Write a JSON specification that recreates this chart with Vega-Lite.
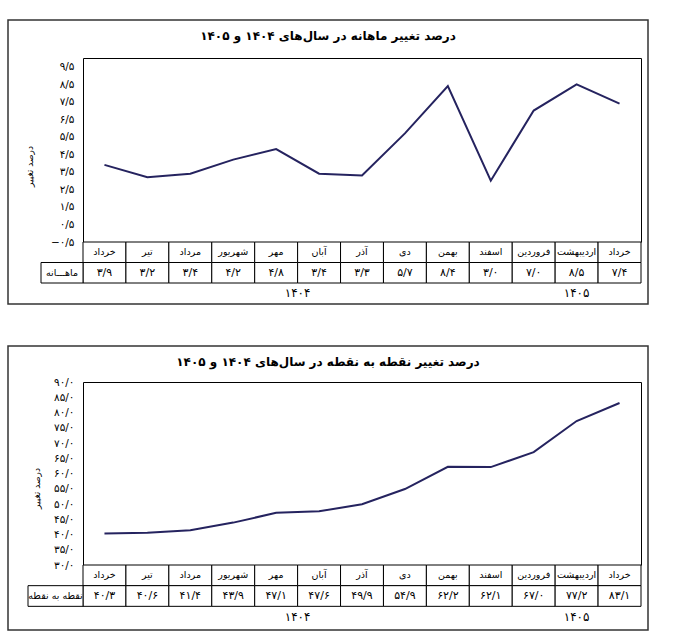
{
  "$schema": "https://vega.github.io/schema/vega-lite/v6.json",
  "padding": {"left": 7, "top": 19, "right": 0, "bottom": 0},
  "background": "white",
  "datasets": {
    "monthly": [
      {"idx": 1, "month": "خرداد", "year": "۱۴۰۴", "value": 3.9, "txt": "۳/۹"},
      {"idx": 2, "month": "تیر", "year": "۱۴۰۴", "value": 3.2, "txt": "۳/۲"},
      {"idx": 3, "month": "مرداد", "year": "۱۴۰۴", "value": 3.4, "txt": "۳/۴"},
      {"idx": 4, "month": "شهریور", "year": "۱۴۰۴", "value": 4.2, "txt": "۴/۲"},
      {"idx": 5, "month": "مهر", "year": "۱۴۰۴", "value": 4.8, "txt": "۴/۸"},
      {"idx": 6, "month": "آبان", "year": "۱۴۰۴", "value": 3.4, "txt": "۳/۴"},
      {"idx": 7, "month": "آذر", "year": "۱۴۰۴", "value": 3.3, "txt": "۳/۳"},
      {"idx": 8, "month": "دی", "year": "۱۴۰۴", "value": 5.7, "txt": "۵/۷"},
      {"idx": 9, "month": "بهمن", "year": "۱۴۰۴", "value": 8.4, "txt": "۸/۴"},
      {"idx": 10, "month": "اسفند", "year": "۱۴۰۴", "value": 3.0, "txt": "۳/۰"},
      {"idx": 11, "month": "فروردین", "year": "۱۴۰۵", "value": 7.0, "txt": "۷/۰"},
      {"idx": 12, "month": "اردیبهشت", "year": "۱۴۰۵", "value": 8.5, "txt": "۸/۵"},
      {"idx": 13, "month": "خرداد", "year": "۱۴۰۵", "value": 7.4, "txt": "۷/۴"}
    ],
    "p2p": [
      {"idx": 1, "month": "خرداد", "year": "۱۴۰۴", "value": 40.3, "txt": "۴۰/۳"},
      {"idx": 2, "month": "تیر", "year": "۱۴۰۴", "value": 40.6, "txt": "۴۰/۶"},
      {"idx": 3, "month": "مرداد", "year": "۱۴۰۴", "value": 41.4, "txt": "۴۱/۴"},
      {"idx": 4, "month": "شهریور", "year": "۱۴۰۴", "value": 43.9, "txt": "۴۳/۹"},
      {"idx": 5, "month": "مهر", "year": "۱۴۰۴", "value": 47.1, "txt": "۴۷/۱"},
      {"idx": 6, "month": "آبان", "year": "۱۴۰۴", "value": 47.6, "txt": "۴۷/۶"},
      {"idx": 7, "month": "آذر", "year": "۱۴۰۴", "value": 49.9, "txt": "۴۹/۹"},
      {"idx": 8, "month": "دی", "year": "۱۴۰۴", "value": 54.9, "txt": "۵۴/۹"},
      {"idx": 9, "month": "بهمن", "year": "۱۴۰۴", "value": 62.2, "txt": "۶۲/۲"},
      {"idx": 10, "month": "اسفند", "year": "۱۴۰۴", "value": 62.1, "txt": "۶۲/۱"},
      {"idx": 11, "month": "فروردین", "year": "۱۴۰۵", "value": 67.0, "txt": "۶۷/۰"},
      {"idx": 12, "month": "اردیبهشت", "year": "۱۴۰۵", "value": 77.2, "txt": "۷۷/۲"},
      {"idx": 13, "month": "خرداد", "year": "۱۴۰۵", "value": 83.1, "txt": "۸۳/۱"}
    ],
    "label1": [{"label": "ماهـــانه", "row": "txt"}],
    "label2": [{"label": "نقطه به نقطه", "row": "txt"}]
  },
  "vconcat": [
    {
      "width": 640,
      "height": 284,
      "title": {"text": "درصد تغییر ماهانه در سال‌های ۱۴۰۴ و ۱۴۰۵", "offset": -23, "fontSize": 12, "fontWeight": "bold", "anchor": "middle", "frame": "group"},
      "resolve": {"scale": {"x": "independent", "y": "independent"}, "axis": {"x": "independent", "y": "independent"}},
      "layer": [
        {
          "data": {"name": "monthly"},
          "transform": [{"fold": ["month", "txt"], "as": ["row", "cell"]}],
          "mark": {"type": "rect", "fill": "white", "stroke": "black", "strokeWidth": 1},
          "encoding": {
            "x": {"field": "idx", "type": "ordinal", "scale": {"type": "band", "range": [75, 633], "paddingInner": 0, "paddingOuter": 0}, "axis": null},
            "y": {"field": "row", "type": "nominal", "scale": {"type": "band", "domain": ["month", "txt", "year"], "range": [222, 283.5], "paddingInner": 0, "paddingOuter": 0}, "axis": null}
          }
        },
        {
          "data": {"name": "monthly"},
          "transform": [{"fold": ["month", "txt"], "as": ["row", "cell"]}],
          "mark": {"type": "text", "fontSize": 10, "color": "black"},
          "encoding": {
            "x": {"field": "idx", "type": "ordinal", "scale": {"type": "band", "range": [75, 633], "paddingInner": 0, "paddingOuter": 0}, "axis": null},
            "y": {"field": "row", "type": "nominal", "scale": {"type": "band", "domain": ["month", "txt", "year"], "range": [222, 283.5], "paddingInner": 0, "paddingOuter": 0}, "axis": null},
            "text": {"field": "cell"},
            "size": {"condition": {"test": "datum.row === 'txt'", "value": 11}, "value": 9.5}
          }
        },
        {
          "data": {"name": "label1"},
          "mark": {"type": "rect", "fill": "white", "stroke": "black", "strokeWidth": 1},
          "encoding": {
            "x": {"field": "label", "type": "nominal", "scale": {"type": "band", "range": [33, 75], "paddingInner": 0, "paddingOuter": 0}, "axis": null},
            "y": {"field": "row", "type": "nominal", "scale": {"type": "band", "domain": ["month", "txt", "year"], "range": [222, 283.5], "paddingInner": 0, "paddingOuter": 0}, "axis": null}
          }
        },
        {
          "data": {"name": "label1"},
          "mark": {"type": "text", "fontSize": 9.5, "color": "black"},
          "encoding": {
            "x": {"field": "label", "type": "nominal", "scale": {"type": "band", "range": [33, 75], "paddingInner": 0, "paddingOuter": 0}, "axis": null},
            "y": {"field": "row", "type": "nominal", "scale": {"type": "band", "domain": ["month", "txt", "year"], "range": [222, 283.5], "paddingInner": 0, "paddingOuter": 0}, "axis": null},
            "text": {"field": "label"}
          }
        },
        {
          "data": {"name": "monthly"},
          "transform": [{"aggregate": [{"op": "mean", "field": "idx", "as": "mid"}], "groupby": ["year"]}],
          "mark": {"type": "text", "fontSize": 12, "color": "black"},
          "encoding": {
            "x": {"field": "mid", "type": "quantitative", "scale": {"domain": [0.5, 13.5], "range": [75, 633], "zero": false, "nice": false}, "axis": null},
            "y": {"datum": "year", "type": "nominal", "scale": {"type": "band", "domain": ["month", "txt", "year"], "range": [222, 283.5], "paddingInner": 0, "paddingOuter": 0}, "axis": null},
            "text": {"field": "year"}
          }
        },
        {
          "data": {"name": "monthly"},
          "mark": {"type": "line", "color": "#25235f", "strokeWidth": 2},
          "encoding": {
            "x": {"field": "idx", "type": "ordinal", "scale": {"type": "point", "range": [75, 633], "padding": 0.5}, "axis": {"orient": "top", "offset": -38, "labels": false, "ticks": false, "title": null, "domainColor": "black", "domainWidth": 1}},
            "y": {"field": "value", "type": "quantitative", "scale": {"domain": [-0.5, 10], "range": [222, 38], "zero": false, "nice": false}, "axis": {"orient": "left", "offset": -75, "values": [-0.5, 0.5, 1.5, 2.5, 3.5, 4.5, 5.5, 6.5, 7.5, 8.5, 9.5], "labelExpr": "replace(replace(replace(replace(replace(replace(replace(replace(replace(replace(replace(format(datum.value,'.1f'),regexp('0','g'),'۰'),regexp('1','g'),'۱'),regexp('2','g'),'۲'),regexp('3','g'),'۳'),regexp('4','g'),'۴'),regexp('5','g'),'۵'),regexp('6','g'),'۶'),regexp('7','g'),'۷'),regexp('8','g'),'۸'),regexp('9','g'),'۹'),'.','/')", "grid": false, "ticks": false, "labelPadding": 9, "labelFontSize": 10.5, "labelColor": "black", "domainColor": "black", "title": "درصد تغییر", "titleFontSize": 9, "titleFontWeight": "normal", "titlePadding": 16, "titleColor": "black", "titleY": 146}}
          }
        },
        {
          "data": {"name": "monthly"},
          "mark": {"type": "line", "opacity": 0},
          "encoding": {
            "x": {"field": "idx", "type": "ordinal", "scale": {"type": "point", "range": [75, 633], "padding": 0.5}, "axis": null},
            "y": {"field": "value", "type": "quantitative", "scale": {"domain": [-0.5, 10], "range": [222, 38], "zero": false, "nice": false}, "axis": {"orient": "right", "offset": -7, "labels": false, "ticks": false, "grid": false, "title": null, "domainColor": "black"}}
          }
        }
      ]
    },
    {
      "width": 640,
      "height": 284,
      "title": {"text": "درصد تغییر نقطه به نقطه در سال‌های ۱۴۰۴ و ۱۴۰۵", "offset": -23, "fontSize": 12, "fontWeight": "bold", "anchor": "middle", "frame": "group"},
      "resolve": {"scale": {"x": "independent", "y": "independent"}, "axis": {"x": "independent", "y": "independent"}},
      "layer": [
        {
          "data": {"name": "p2p"},
          "transform": [{"fold": ["month", "txt"], "as": ["row", "cell"]}],
          "mark": {"type": "rect", "fill": "white", "stroke": "black", "strokeWidth": 1},
          "encoding": {
            "x": {"field": "idx", "type": "ordinal", "scale": {"type": "band", "range": [75, 633], "paddingInner": 0, "paddingOuter": 0}, "axis": null},
            "y": {"field": "row", "type": "nominal", "scale": {"type": "band", "domain": ["month", "txt", "year"], "range": [219, 281], "paddingInner": 0, "paddingOuter": 0}, "axis": null}
          }
        },
        {
          "data": {"name": "p2p"},
          "transform": [{"fold": ["month", "txt"], "as": ["row", "cell"]}],
          "mark": {"type": "text", "fontSize": 10, "color": "black"},
          "encoding": {
            "x": {"field": "idx", "type": "ordinal", "scale": {"type": "band", "range": [75, 633], "paddingInner": 0, "paddingOuter": 0}, "axis": null},
            "y": {"field": "row", "type": "nominal", "scale": {"type": "band", "domain": ["month", "txt", "year"], "range": [219, 281], "paddingInner": 0, "paddingOuter": 0}, "axis": null},
            "text": {"field": "cell"},
            "size": {"condition": {"test": "datum.row === 'txt'", "value": 11}, "value": 9.5}
          }
        },
        {
          "data": {"name": "label2"},
          "mark": {"type": "rect", "fill": "white", "stroke": "black", "strokeWidth": 1},
          "encoding": {
            "x": {"field": "label", "type": "nominal", "scale": {"type": "band", "range": [20, 75], "paddingInner": 0, "paddingOuter": 0}, "axis": null},
            "y": {"field": "row", "type": "nominal", "scale": {"type": "band", "domain": ["month", "txt", "year"], "range": [219, 281], "paddingInner": 0, "paddingOuter": 0}, "axis": null}
          }
        },
        {
          "data": {"name": "label2"},
          "mark": {"type": "text", "fontSize": 9.5, "color": "black"},
          "encoding": {
            "x": {"field": "label", "type": "nominal", "scale": {"type": "band", "range": [20, 75], "paddingInner": 0, "paddingOuter": 0}, "axis": null},
            "y": {"field": "row", "type": "nominal", "scale": {"type": "band", "domain": ["month", "txt", "year"], "range": [219, 281], "paddingInner": 0, "paddingOuter": 0}, "axis": null},
            "text": {"field": "label"}
          }
        },
        {
          "data": {"name": "p2p"},
          "transform": [{"aggregate": [{"op": "mean", "field": "idx", "as": "mid"}], "groupby": ["year"]}],
          "mark": {"type": "text", "fontSize": 12, "color": "black"},
          "encoding": {
            "x": {"field": "mid", "type": "quantitative", "scale": {"domain": [0.5, 13.5], "range": [75, 633], "zero": false, "nice": false}, "axis": null},
            "y": {"datum": "year", "type": "nominal", "scale": {"type": "band", "domain": ["month", "txt", "year"], "range": [219, 281], "paddingInner": 0, "paddingOuter": 0}, "axis": null},
            "text": {"field": "year"}
          }
        },
        {
          "data": {"name": "p2p"},
          "mark": {"type": "line", "color": "#25235f", "strokeWidth": 2},
          "encoding": {
            "x": {"field": "idx", "type": "ordinal", "scale": {"type": "point", "range": [75, 633], "padding": 0.5}, "axis": {"orient": "top", "offset": -36, "labels": false, "ticks": false, "title": null, "domainColor": "black", "domainWidth": 1}},
            "y": {"field": "value", "type": "quantitative", "scale": {"domain": [30, 90], "range": [219, 36], "zero": false, "nice": false}, "axis": {"orient": "left", "offset": -75, "values": [30, 35, 40, 45, 50, 55, 60, 65, 70, 75, 80, 85, 90], "labelExpr": "replace(replace(replace(replace(replace(replace(replace(replace(replace(replace(replace(format(datum.value,'.1f'),regexp('0','g'),'۰'),regexp('1','g'),'۱'),regexp('2','g'),'۲'),regexp('3','g'),'۳'),regexp('4','g'),'۴'),regexp('5','g'),'۵'),regexp('6','g'),'۶'),regexp('7','g'),'۷'),regexp('8','g'),'۸'),regexp('9','g'),'۹'),'.','/')", "grid": false, "ticks": false, "labelPadding": 9, "labelFontSize": 10.5, "labelColor": "black", "domainColor": "black", "title": "درصد تغییر", "titleFontSize": 9, "titleFontWeight": "normal", "titlePadding": 12, "titleColor": "black", "titleY": 142}}
          }
        },
        {
          "data": {"name": "p2p"},
          "mark": {"type": "line", "opacity": 0},
          "encoding": {
            "x": {"field": "idx", "type": "ordinal", "scale": {"type": "point", "range": [75, 633], "padding": 0.5}, "axis": null},
            "y": {"field": "value", "type": "quantitative", "scale": {"domain": [30, 90], "range": [219, 36], "zero": false, "nice": false}, "axis": {"orient": "right", "offset": -7, "labels": false, "ticks": false, "grid": false, "title": null, "domainColor": "black"}}
          }
        }
      ]
    }
  ],
  "spacing": 40,
  "config": {
    "font": "DejaVu Sans",
    "view": {"stroke": "#333333", "strokeWidth": 1.5},
    "title": {"color": "black"}
  }
}
